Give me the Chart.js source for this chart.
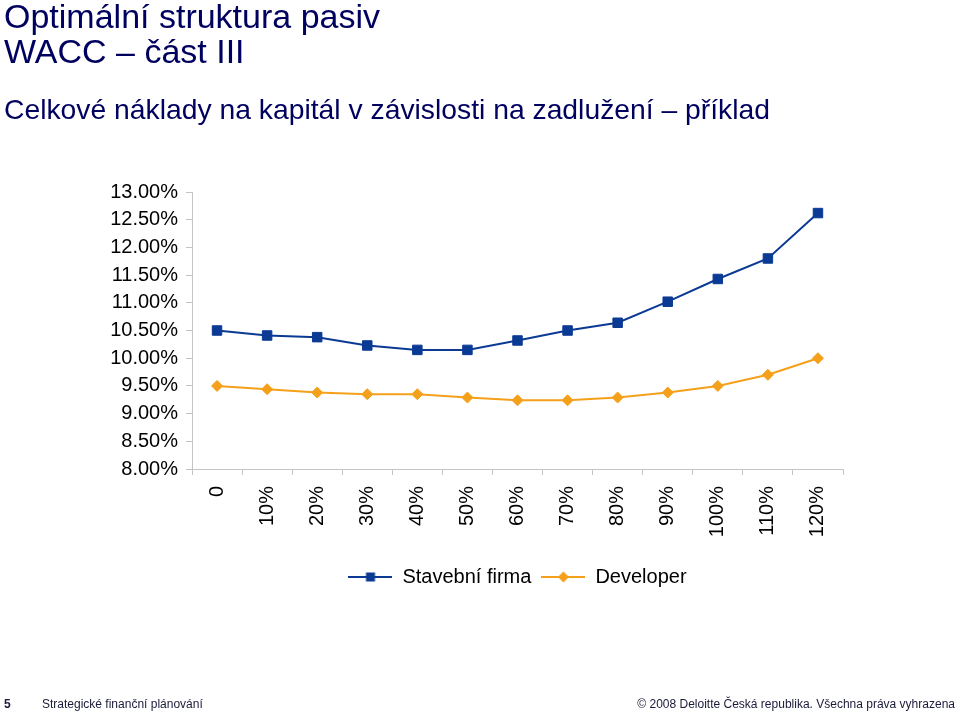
<!DOCTYPE html>
<html>
<head>
<meta charset="utf-8">
<script src="https://cdn.jsdelivr.net/npm/chart.js@4.4.1/dist/chart.umd.min.js"></script>
<style>
  body { margin: 0; background: #fff; font-family: "Liberation Sans", Arial, sans-serif; }
  #page { position: relative; width: 960px; height: 715px; overflow: hidden; }
  #chartBox { position: absolute; left: 0; top: 0; width: 960px; height: 715px; }
  .title { position: absolute; left: 4px; top: -1px; font-size: 34px; line-height: 35px; color: #00005e; }
  .subtitle { position: absolute; left: 4px; top: 95px; font-size: 28.3px; line-height: 28px; color: #00005e; }
  .foot { position: absolute; top: 698px; font-size: 12px; line-height: 12px; color: #1a1a3a; }
</style>
</head>
<body>
<div id="page">
  <div id="chartBox"><canvas id="myChart"></canvas></div>
  <div class="title">Optimální struktura pasiv<br>WACC – část III</div>
  <div class="subtitle">Celkové náklady na kapitál v závislosti na zadlužení – příklad</div>
  <div class="foot" style="left:4px;font-weight:bold;">5</div>
  <div class="foot" style="left:42px;">Strategické finanční plánování</div>
  <div class="foot" style="right:5px;">© 2008 Deloitte Česká republika. Všechna práva vyhrazena</div>
</div>
<script>
// debt ratio categories
let categories = ["0", "10%", "20%", "30%", "40%", "50%", "60%", "70%", "80%", "90%", "100%", "110%", "120%"];
// cost of capital in %
let stavebniFirma = [10.50, 10.41, 10.38, 10.23, 10.15, 10.15, 10.32, 10.50, 10.64, 11.02, 11.43, 11.80, 12.62];
let developer = [9.50, 9.44, 9.38, 9.35, 9.35, 9.29, 9.24, 9.24, 9.29, 9.38, 9.50, 9.70, 10.00];
let seriesNames = ["Stavební firma", "Developer"];
// y axis range / step
let yMin = 8, yMax = 13, yStep = 0.5;

let blue = "#0b3a94";
let orange = "#f5a01a";
let axisGrey = "#c4c4c4";

// small picture for legend: line + marker
function legendIcon(color, diamond) {
    let c = document.createElement("canvas");
    c.width = 44;
    c.height = 14;
    let ctx = c.getContext("2d");
    ctx.strokeStyle = color;
    ctx.lineWidth = 2;
    ctx.beginPath();
    ctx.moveTo(0, 7);
    ctx.lineTo(44, 7);
    ctx.stroke();
    ctx.fillStyle = color;
    if (diamond) {
        ctx.beginPath();
        ctx.moveTo(22, 1.5);
        ctx.lineTo(27.5, 7);
        ctx.lineTo(22, 12.5);
        ctx.lineTo(16.5, 7);
        ctx.closePath();
        ctx.fill();
    } else {
        ctx.fillRect(17.5, 2.5, 9, 9);
    }
    return c;
}
let icons = [legendIcon(blue, false), legendIcon(orange, true)];

const data = {
    labels: categories,
    datasets: [
        {
            label: seriesNames[0],
            data: stavebniFirma,
            borderColor: blue,
            backgroundColor: blue,
            borderWidth: 2,
            pointStyle: "rect",
            pointRadius: 6.7,
            pointBorderWidth: 1,
        },
        {
            label: seriesNames[1],
            data: developer,
            borderColor: orange,
            backgroundColor: orange,
            borderWidth: 2,
            pointStyle: "rectRot",
            pointRadius: 5.5,
            pointBorderWidth: 1,
        },
    ],
};

const config = {
    type: "line",
    data: data,
    options: {
        responsive: true,
        maintainAspectRatio: false,
        animation: false,
        layout: {
            padding: { left: 0, top: 192, right: 117, bottom: 118 },
        },
        plugins: {
            tooltip: { enabled: false },
            legend: {
                position: "bottom",
                fullSize: false,
                labels: {
                    usePointStyle: true,
                    pointStyleWidth: 44,
                    padding: 10,
                    color: "#000",
                    font: { family: "Liberation Sans", size: 20 },
                    generateLabels: function (chart) {
                        return chart.data.datasets.map(function (ds, i) {
                            return {
                                text: ds.label,
                                pointStyle: icons[i],
                                fillStyle: ds.borderColor,
                                strokeStyle: ds.borderColor,
                                lineWidth: 0,
                                hidden: false,
                                datasetIndex: i,
                            };
                        });
                    },
                },
            },
        },
        scales: {
            x: {
                offset: true,
                grid: {
                    display: true,
                    drawOnChartArea: false,
                    drawTicks: true,
                    tickLength: 6,
                    offset: true,
                    color: axisGrey,
                },
                border: { color: axisGrey, width: 1 },
                ticks: {
                    color: "#000",
                    minRotation: 90,
                    maxRotation: 90,
                    autoSkip: false,
                    padding: 11,
                    font: { family: "Liberation Sans", size: 20 },
                },
                afterFit: function (scale) {
                    scale.height = 88;
                },
            },
            y: {
                min: yMin,
                max: yMax,
                grid: {
                    display: true,
                    drawOnChartArea: false,
                    drawTicks: true,
                    tickLength: 6,
                    color: axisGrey,
                },
                border: { color: axisGrey, width: 1 },
                ticks: {
                    stepSize: yStep,
                    color: "#000",
                    padding: 8,
                    font: { family: "Liberation Sans", size: 20 },
                    callback: function (v) {
                        return v.toFixed(2) + "%";
                    },
                },
                afterFit: function (scale) {
                    scale.width = 192;
                },
            },
        },
    },
};

const myChart = new Chart(document.getElementById("myChart"), config);
</script>
</body>
</html>
